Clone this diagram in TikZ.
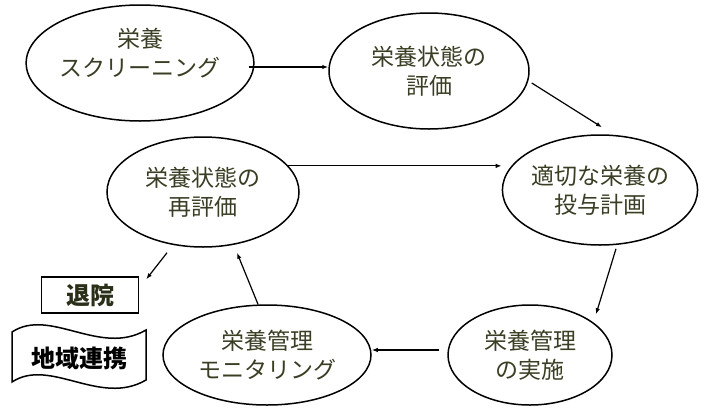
\documentclass[tikz,border=0pt]{standalone}
\usepackage{fontspec}
\setmainfont{Noto Sans CJK JP}
\usetikzlibrary{arrows.meta,shapes.geometric}
\definecolor{txt}{RGB}{58,62,36}
\definecolor{olive}{RGB}{42,48,24}
\tikzset{
  bub/.style={draw=black, line width=1.5pt, ellipse, inner sep=0pt, align=center,
    text=txt, font=\fontsize{23}{29}\selectfont},
  arr/.style={line width=1.2pt, -{Latex[length=6pt,width=4.5pt]}},
  lbl/.style={font=\fontsize{24}{28}\selectfont\bfseries}
}
\begin{document}
\begin{tikzpicture}[x=1pt,y=-1pt]
\path[use as bounding box] (0,0) rectangle (720,413);
\node[bub, minimum width=222pt, minimum height=116pt] (A) at (140,63) {栄養\\スクリーニング\\[-8pt]};
\node[bub, minimum width=200pt, minimum height=116pt] (B) at (429,71) {栄養状態の\\評価};
\node[bub, minimum width=192pt, minimum height=110pt] (C) at (203,192) {栄養状態の\\再評価};
\node[bub, minimum width=176pt, minimum height=110pt] (D) at (600,190) {適切な栄養の\\投与計画};
\node[bub, minimum width=164pt, minimum height=100pt] (E) at (530,355) {栄養管理\\の実施};
\node[bub, minimum width=208pt, minimum height=100pt] (F) at (267,355) {栄養管理\\モニタリング};
\node[draw=black, line width=1.5pt, minimum width=97pt, minimum height=36pt, inner sep=0pt,
  lbl, text=olive] (R) at (90,295) {退院};
\draw[line width=1.5pt] (12,332) .. controls (50,307) and (100,357) .. (146,330)
  -- (146,380) .. controls (100,407) and (50,357) .. (12,382) -- cycle;
\node[lbl, text=black] (W) at (79,358) {地域連携};
\draw[arr] ([shift={(-6,4)}]A.east) -- ([shift={(0,-4)}]B.west);
\draw[arr] ([shift={(2,12)}]B.east) -- ([shift={(2,-7)}]D.north);
\draw[arr] (C.17) -- (C.17 -| D.west);
\draw[arr] ([shift={(16,3)}]D.south) -- ([shift={(66,10)}]E.north);
\draw[arr] ([shift={(-8,-5)}]E.west) -- ([shift={(0,-5)}]F.east);
\draw[arr] ([shift={(-9,0)}]F.north) -- ([shift={(34,5)}]C.south);
\draw[arr] ([shift={(-36,5)}]C.south) -- ([shift={(7,3)}]R.north east);
\end{tikzpicture}
\end{document}
